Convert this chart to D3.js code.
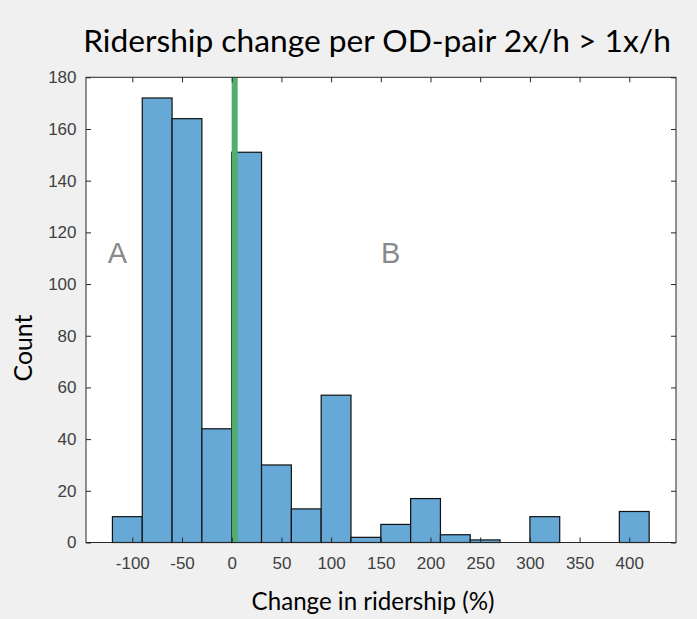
<!DOCTYPE html>
<html>
<head>
<meta charset="utf-8">
<script src="https://cdn.jsdelivr.net/npm/d3@7"></script>
<style>
  html, body { margin: 0; padding: 0; background: #f0f0f0; }
  svg { display: block; }
  .tk text { font-family: "Liberation Sans", Arial, sans-serif; font-size: 17px; fill: #404040; }
</style>
</head>
<body>
<svg id="chart" width="697" height="619"></svg>
<script>
// ---- data ----
const binEdgesLeft = [-120, -90, -60, -30, 0, 30, 60, 90, 120, 150, 180, 210, 240, 270, 300, 330, 360, 390];
const binWidth = 30;
const counts = [10, 172, 164, 44, 151, 30, 13, 57, 2, 7, 17, 3, 1, 0, 10, 0, 0, 12];
const xTicks = [-100, -50, 0, 50, 100, 150, 200, 250, 300, 350, 400];
const yTicks = [0, 20, 40, 60, 80, 100, 120, 140, 160, 180];
const refLineValue = 3;
const titleText = "Ridership change per OD-pair 2x/h > 1x/h";
const xLabelText = "Change in ridership (%)";
const yLabelText = "Count";
const regionLabels = [{ text: "A", x: -115, y: 108 }, { text: "B", x: 160, y: 108 }];

// ---- layout ----
const W = 697, H = 619;
const pL = 86, pR = 676, pT = 77.3, pB = 542.5;
const svg = d3.select("#chart");

const x = d3.scaleLinear().domain([-146.6, 447]).range([pL, pR]);
const y = d3.scaleLinear().domain([0, 180]).range([pB, pT]);

svg.append("rect").attr("width", W).attr("height", H).attr("fill", "#f0f0f0");
svg.append("rect").attr("x", pL).attr("y", pT).attr("width", pR - pL).attr("height", pB - pT).attr("fill", "#ffffff");

// bars
const bins = binEdgesLeft.map((b, i) => ({ x0: b, x1: b + binWidth, n: counts[i] })).filter(d => d.n > 0);
svg.append("g").selectAll("rect").data(bins).join("rect")
  .attr("x", d => x(d.x0))
  .attr("y", d => y(d.n))
  .attr("width", d => x(d.x1) - x(d.x0))
  .attr("height", d => y(0) - y(d.n))
  .attr("fill", "#66a9d7")
  .attr("stroke", "#111")
  .attr("stroke-width", 1.2);

// reference line
svg.append("line")
  .attr("x1", x(refLineValue)).attr("x2", x(refLineValue))
  .attr("y1", y(180)).attr("y2", y(0))
  .attr("stroke", "#52ae6c").attr("stroke-width", 6);

// region labels
svg.append("g").selectAll("text").data(regionLabels).join("text")
  .attr("x", d => x(d.x)).attr("y", d => y(d.y))
  .attr("text-anchor", "middle")
  .attr("font-family", "Liberation Sans, Arial, sans-serif")
  .attr("font-size", 29)
  .attr("fill", "#8a8a8a")
  .text(d => d.text);

// axes
const axisColor = "#262626";
const fmt = d => String(d);
function styleAxis(g) {
  g.attr("class", "tk").attr("font-family", null).attr("font-size", null);
  g.select(".domain").remove();
  g.selectAll(".tick line").attr("stroke", axisColor);
}
svg.append("g").attr("transform", `translate(0,${pB})`)
  .call(d3.axisBottom(x).tickValues(xTicks).tickSize(-5).tickPadding(14).tickFormat(fmt))
  .call(styleAxis);
svg.append("g").attr("transform", `translate(0,${pT})`)
  .call(d3.axisTop(x).tickValues(xTicks).tickSize(-5).tickFormat(""))
  .call(styleAxis);
svg.append("g").attr("transform", `translate(${pL},0)`)
  .call(d3.axisLeft(y).tickValues(yTicks).tickSize(-5).tickPadding(9.5).tickFormat(fmt))
  .call(styleAxis);
svg.append("g").attr("transform", `translate(${pR},0)`)
  .call(d3.axisRight(y).tickValues(yTicks).tickSize(-5).tickFormat(""))
  .call(styleAxis);

// frame
svg.append("rect").attr("x", pL).attr("y", pT).attr("width", pR - pL).attr("height", pB - pT)
  .attr("fill", "none").attr("stroke", axisColor).attr("stroke-width", 1);

// fit-size helper
function fitText(sel, targetWidth, baseSize) {
  sel.attr("font-size", baseSize);
  const w = sel.node().getComputedTextLength();
  sel.attr("font-size", baseSize * targetWidth / w);
}
const labelFont = "Lato, 'Open Sans', sans-serif";

const title = svg.append("text")
  .attr("x", 377).attr("y", 52)
  .attr("text-anchor", "middle")
  .attr("font-family", labelFont)
  .attr("fill", "#000")
  .text(titleText);
fitText(title, 588, 32);

const xl = svg.append("text")
  .attr("x", 373).attr("y", 610)
  .attr("text-anchor", "middle")
  .attr("font-family", labelFont)
  .attr("fill", "#000")
  .text(xLabelText);
fitText(xl, 243, 22);

const yl = svg.append("text")
  .attr("transform", "translate(32,348) rotate(-90)")
  .attr("text-anchor", "middle")
  .attr("font-family", labelFont)
  .attr("fill", "#000")
  .text(yLabelText);
fitText(yl, 67, 22);
</script>
</body>
</html>
